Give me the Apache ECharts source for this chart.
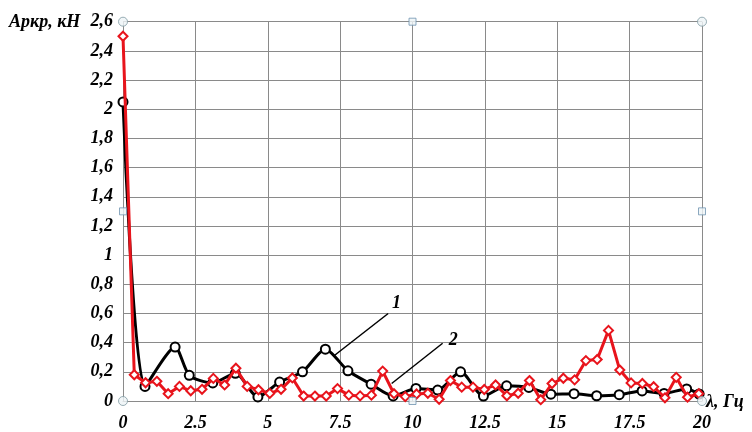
<!DOCTYPE html>
<html>
<head>
<meta charset="utf-8">
<script src="https://cdn.jsdelivr.net/npm/echarts@6/dist/echarts.min.js"></script>
<style>
html,body{margin:0;padding:0;background:#fff;}
#chart{width:752px;height:432px;}
</style>
</head>
<body>
<div id="chart"></div>
<script>
// ---- data ----
var xTickLabels = ['0', '2.5', '5', '7.5', '10', '12.5', '15', '17.5', '20'];
var yTickLabels = ['0', '0,2', '0,4', '0,6', '0,8', '1', '1,2', '1,4', '1,6', '1,8', '2', '2,2', '2,4', '2,6'];

var series1X = [0, 0.76, 1.80, 2.29, 3.10, 3.88, 4.66, 5.41, 6.20, 6.99, 7.77, 8.57, 9.33, 10.12, 10.87, 11.66, 12.45, 13.25, 14.02, 14.78, 15.58, 16.36, 17.14, 17.93, 18.69, 19.47, 19.90];
var series1Y = [2.05, 0.10, 0.37, 0.176, 0.124, 0.19, 0.028, 0.13, 0.20, 0.355, 0.207, 0.115, 0.035, 0.086, 0.075, 0.20, 0.034, 0.104, 0.093, 0.047, 0.05, 0.036, 0.043, 0.069, 0.052, 0.083, 0.048];

var series2X = [0, 0.39, 0.78, 1.17, 1.56, 1.95, 2.34, 2.73, 3.12, 3.51, 3.90, 4.29, 4.68, 5.07, 5.46, 5.85, 6.24, 6.63, 7.02, 7.41, 7.80, 8.19, 8.58, 8.97, 9.36, 9.75, 10.14, 10.53, 10.92, 11.31, 11.70, 12.09, 12.48, 12.87, 13.26, 13.65, 14.04, 14.43, 14.82, 15.21, 15.60, 15.99, 16.38, 16.77, 17.16, 17.55, 17.94, 18.33, 18.72, 19.11, 19.50, 19.89];
var series2Y = [2.50, 0.18, 0.125, 0.135, 0.05, 0.10, 0.07, 0.08, 0.155, 0.11, 0.225, 0.10, 0.077, 0.052, 0.08, 0.158, 0.034, 0.034, 0.034, 0.085, 0.04, 0.035, 0.04, 0.205, 0.05, 0.03, 0.048, 0.053, 0.012, 0.14, 0.095, 0.095, 0.079, 0.11, 0.036, 0.053, 0.14, 0.009, 0.12, 0.156, 0.145, 0.277, 0.285, 0.484, 0.212, 0.124, 0.12, 0.098, 0.022, 0.162, 0.026, 0.05];

// callout annotations: label, text position, leader line start/end (data coords)
var calloutLabels = ['1', '2'];
var calloutText = [[9.45, 0.67], [11.41, 0.415]];
var calloutFrom = [[9.16, 0.60], [11.04, 0.396]];
var calloutTo = [[7.29, 0.31], [9.28, 0.12]];

// Excel-style selection handles
var handleCircles = [[0, 2.6], [20, 2.6], [0, 0], [20, 0]];
var handleSquares = [[10, 2.6], [0, 1.3], [20, 1.3], [10, 0]];

var yTitle = 'Aркр, кН';
var xTitle = 'λ, Гц';

function zip(xs, ys) { return xs.map(function (x, i) { return [x, ys[i]]; }); }

var FONT_FAMILY = '"Liberation Serif", "Times New Roman", serif';
var labelFont = {
  fontFamily: FONT_FAMILY,
  fontStyle: 'italic',
  fontWeight: 'bold',
  fontSize: 18,
  color: '#000'
};

var chart = echarts.init(document.getElementById('chart'));
var option = {
  animation: false,
  backgroundColor: '#fff',
  grid: { left: 123, right: 50, top: 21.7, bottom: 27, containLabel: false },
  xAxis: {
    type: 'value', min: 0, max: 20, interval: 2.5,
    axisLine: { show: true, lineStyle: { color: '#8a8a8a', width: 1 } },
    axisTick: { show: false },
    splitLine: { show: true, lineStyle: { color: '#8a8a8a', width: 1 } },
    axisLabel: Object.assign({ margin: 13, formatter: function (v) { return xTickLabels[Math.round(v / 2.5)]; } }, labelFont)
  },
  yAxis: {
    type: 'value', min: 0, max: 2.6, interval: 0.2,
    axisLine: { show: true, lineStyle: { color: '#8a8a8a', width: 1 } },
    axisTick: { show: false },
    splitLine: { show: true, lineStyle: { color: '#8a8a8a', width: 1 } },
    axisLabel: Object.assign({ margin: 10, formatter: function (v) { return yTickLabels[Math.round(v / 0.2)]; } }, labelFont)
  },
  graphic: [
    { type: 'text', left: 9, top: 13, style: { text: yTitle, font: 'italic bold 18px ' + FONT_FAMILY, fill: '#000' } },
    { type: 'text', left: 706, top: 393, style: { text: xTitle, font: 'italic bold 18px ' + FONT_FAMILY, fill: '#000' } }
  ],
  series: [
    {
      type: 'line', name: '1', data: zip(series1X, series1Y),
      smooth: 0.25,
      symbol: 'circle', symbolSize: 9,
      lineStyle: { color: '#000', width: 3 },
      itemStyle: { color: '#fff', borderColor: '#000', borderWidth: 2 },
      z: 3
    },
    {
      type: 'line', name: '2', data: zip(series2X, series2Y),
      symbol: 'diamond', symbolSize: 9,
      lineStyle: { color: '#e8141c', width: 3 },
      itemStyle: { color: '#fff', borderColor: '#e8141c', borderWidth: 2 },
      z: 4,
      markLine: {
        silent: true, symbol: ['none', 'none'],
        lineStyle: { color: '#000', width: 1.5, type: 'solid' },
        label: { show: false },
        data: calloutFrom.map(function (p, i) { return [{ coord: p }, { coord: calloutTo[i] }]; })
      },
      markPoint: {
        silent: true, symbol: 'circle', symbolSize: 1,
        itemStyle: { color: 'rgba(0,0,0,0)' },
        label: Object.assign({ show: true, position: 'inside', formatter: function (p) { return p.name; } }, labelFont),
        data: calloutText.map(function (p, i) { return { name: calloutLabels[i], coord: p }; })
      }
    },
    {
      type: 'scatter', data: handleCircles, symbol: 'circle', symbolSize: 9,
      itemStyle: { color: '#eef4f6', borderColor: '#7f9aa3', borderWidth: 1 }, z: 5, silent: true
    },
    {
      type: 'scatter', data: handleSquares, symbol: 'rect', symbolSize: 7,
      itemStyle: { color: '#eef4f6', borderColor: '#6f93b0', borderWidth: 1 }, z: 5, silent: true
    }
  ]
};
chart.setOption(option);
</script>
</body>
</html>
